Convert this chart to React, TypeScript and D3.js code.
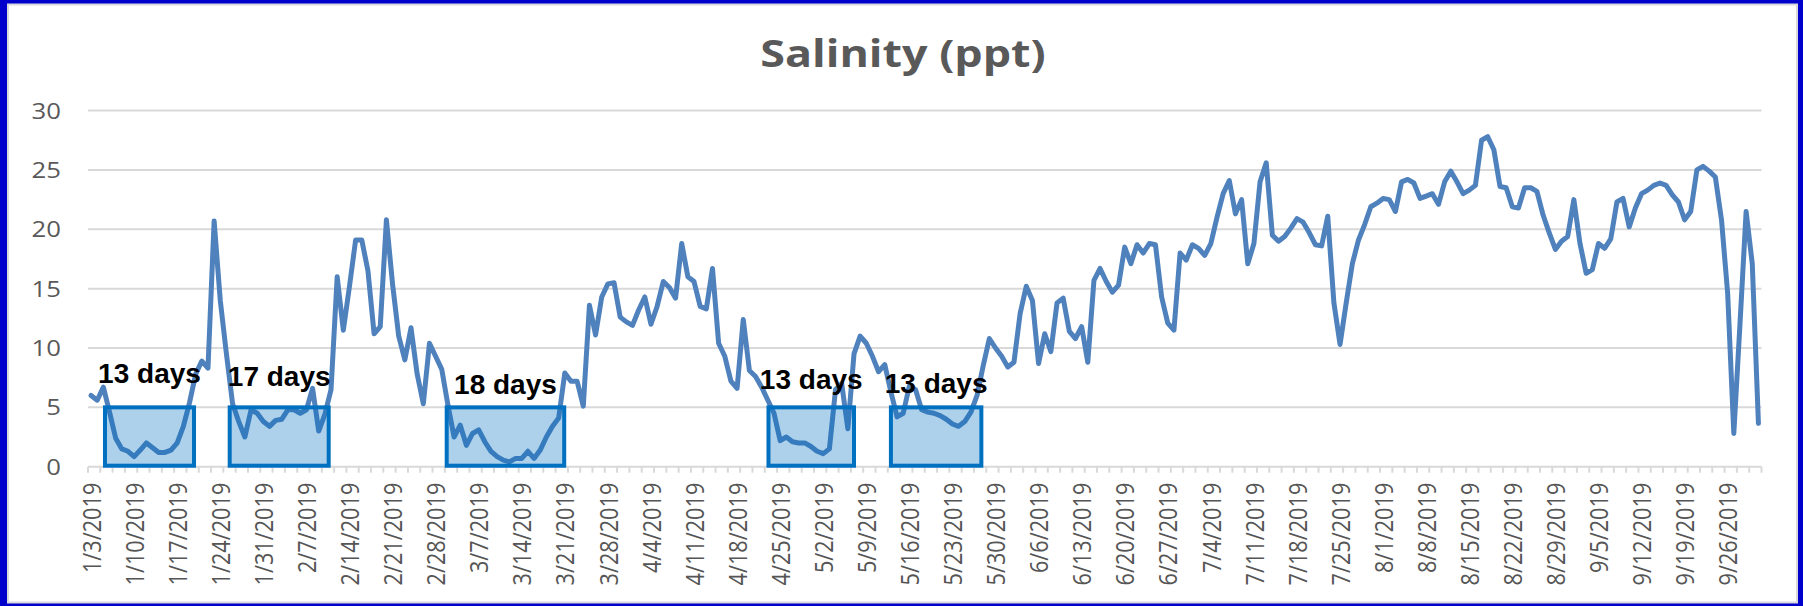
import React from "react";
import * as d3 from "d3";

// Daily salinity (ppt), one value per day starting 1/3/2019
const salinity: number[] = [
  6.0, 5.6, 6.7, 4.6, 2.4, 1.5, 1.3, 0.85, 1.4, 2.0,
  1.6, 1.2, 1.2, 1.4, 2.0, 3.4, 5.4, 7.8, 8.9, 8.3,
  20.7, 14.0, 9.5, 5.3, 3.8, 2.5, 4.8, 4.5, 3.8, 3.4,
  3.9, 4.0, 4.8, 4.8, 4.5, 4.8, 6.6, 3.0, 4.4, 6.5,
  16.0, 11.5, 15.2, 19.1, 19.1, 16.5, 11.2, 11.8, 20.8, 15.4,
  11.0, 9.0, 11.7, 7.8, 5.3, 10.4, 9.3, 8.2, 5.2, 2.5,
  3.5, 1.8, 2.8, 3.1, 2.1, 1.3, 0.85, 0.55, 0.4, 0.7,
  0.7, 1.3, 0.7, 1.4, 2.5, 3.4, 4.1, 7.9, 7.2, 7.2,
  5.1, 13.6, 11.1, 14.3, 15.4, 15.5, 12.6, 12.2, 11.9, 13.2,
  14.3, 12.0, 13.5, 15.6, 15.1, 14.2, 18.8, 16.0, 15.6, 13.5,
  13.3, 16.7, 10.4, 9.3, 7.2, 6.6, 12.4, 8.1, 7.6, 6.7,
  5.6, 4.5, 2.2, 2.5, 2.1, 2.0, 2.0, 1.7, 1.3, 1.1,
  1.5, 6.5, 7.0, 3.2, 9.5, 11.0, 10.4, 9.3, 8.0, 8.6,
  6.3, 4.2, 4.5, 6.8, 6.5, 4.8, 4.6, 4.5, 4.3, 4.0,
  3.6, 3.4, 3.8, 4.6, 6.0, 8.5, 10.8, 10.0, 9.3, 8.4,
  8.8, 12.9, 15.2, 14.0, 8.7, 11.2, 9.7, 13.8, 14.2, 11.4,
  10.8, 11.8, 8.8, 15.7, 16.7, 15.6, 14.7, 15.3, 18.5, 17.1,
  18.7, 18.0, 18.8, 18.7, 14.3, 12.1, 11.5, 18.0, 17.4, 18.7,
  18.4, 17.8, 18.8, 21.0, 23.0, 24.1, 21.3, 22.5, 17.1, 18.8,
  24.0, 25.6, 19.5, 19.0, 19.4, 20.1, 20.9, 20.6, 19.7, 18.7,
  18.6, 21.1, 13.8, 10.3, 13.8, 17.1, 19.1, 20.4, 21.9, 22.2,
  22.6, 22.5, 21.5, 24.0, 24.2, 23.9, 22.6, 22.8, 23.0, 22.1,
  24.0, 24.9, 24.0, 23.0, 23.3, 23.7, 27.5, 27.8, 26.7, 23.6,
  23.5, 21.9, 21.8, 23.5, 23.5, 23.2, 21.2, 19.7, 18.3, 19.0,
  19.4, 22.5, 18.8, 16.3, 16.6, 18.8, 18.4, 19.2, 22.3, 22.6,
  20.2, 21.8, 23.0, 23.3, 23.7, 23.9, 23.7, 22.9, 22.3, 20.8,
  21.5, 25.0, 25.3, 24.9, 24.4, 20.8, 14.6, 2.8, 12.0, 21.5,
  17.1, 3.65,
];

const dateLabels: string[] = [
  "1/3/2019", "1/10/2019", "1/17/2019", "1/24/2019", "1/31/2019", "2/7/2019",
  "2/14/2019", "2/21/2019", "2/28/2019", "3/7/2019", "3/14/2019", "3/21/2019",
  "3/28/2019", "4/4/2019", "4/11/2019", "4/18/2019", "4/25/2019", "5/2/2019",
  "5/9/2019", "5/16/2019", "5/23/2019", "5/30/2019", "6/6/2019", "6/13/2019",
  "6/20/2019", "6/27/2019", "7/4/2019", "7/11/2019", "7/18/2019", "7/25/2019",
  "8/1/2019", "8/8/2019", "8/15/2019", "8/22/2019", "8/29/2019", "9/5/2019",
  "9/12/2019", "9/19/2019", "9/26/2019",
];
const labelEvery = 7;

const yTicks: number[] = [0, 5, 10, 15, 20, 25, 30];

// Low-salinity periods (day offsets from 1/3/2019) and their annotation levels (ppt)
const lowStart: number[] = [2.26, 22.53, 57.8, 110.1, 130.0];
const lowEnd: number[] = [16.73, 38.62, 76.9, 124.0, 144.7];
const lowLabels: string[] = ["13 days", "17 days", "18 days", "13 days", "13 days"];
const lowLabelLevel: number[] = [7.08, 6.82, 6.12, 6.55, 6.25];
const lowThreshold = 5;

const W = 1803;
const H = 606;
const SX = 1.17; // horizontal stretch of the original picture

export default function App() {
  const x = d3
    .scaleLinear()
    .domain([-0.5, salinity.length - 0.5])
    .range([88, 1761.5]);
  const y = d3.scaleLinear().domain([0, 30]).range([466.7, 110.6]);

  const line = d3
    .line<number>()
    .x((_, i) => x(i))
    .y((d) => y(d));

  const tickDays = d3.range(0, salinity.length + 1, 2);

  return (
    <svg
      width={W}
      height={H}
      style={{ position: "absolute", left: 0, top: 0, display: "block" }}
    >
      <rect x={0} y={0} width={W} height={H} fill="#0000CD" />
      <rect
        x={8}
        y={4.5}
        width={1789}
        height={598}
        fill="#FFFFFF"
        stroke="#D9D9D9"
        strokeWidth={2}
      />
      {/* title */}
      <text
        transform={`translate(903,66.7) scale(1.18,1)`}
        textAnchor="middle"
        fontFamily="'Open Sans', sans-serif"
        fontWeight={700}
        fontSize={38}
        fill="#595959"
      >
        Salinity (ppt)
      </text>
      {/* gridlines */}
      {yTicks.map((t) => (
        <line
          key={"g" + t}
          x1={88}
          x2={1761.5}
          y1={y(t)}
          y2={y(t)}
          stroke="#D9D9D9"
          strokeWidth={2}
        />
      ))}
      {/* y labels */}
      {yTicks.map((t) => (
        <text
          key={"yl" + t}
          transform={`translate(61,${y(t) + 8}) scale(${SX},1)`}
          textAnchor="end"
          fontFamily="'Open Sans', sans-serif"
          fontSize={22}
          fill="#595959"
        >
          {t}
        </text>
      ))}
      {/* x ticks */}
      {tickDays.map((d) => (
        <line
          key={"t" + d}
          x1={x(d - 0.5)}
          x2={x(d - 0.5)}
          y1={y(0)}
          y2={y(0) + 6}
          stroke="#D9D9D9"
          strokeWidth={2}
        />
      ))}
      {/* x labels */}
      {dateLabels.map((lab, k) => (
        <text
          key={"xl" + k}
          transform={`translate(${x(k * labelEvery)},482.7) scale(${SX},1) rotate(-90)`}
          textAnchor="end"
          dominantBaseline="central"
          fontFamily="'Open Sans', sans-serif"
          fontSize={21.7}
          fill="#555555"
        >
          {lab}
        </text>
      ))}
      {/* series */}
      <path
        d={line(salinity) || ""}
        fill="none"
        stroke="#4F81BD"
        strokeWidth={5}
        strokeLinejoin="round"
        strokeLinecap="round"
      />
      {/* low periods */}
      {lowStart.map((s, k) => (
        <g key={"b" + k}>
          <rect
            x={x(s)}
            y={y(lowThreshold)}
            width={x(lowEnd[k]) - x(s)}
            height={y(0) - y(lowThreshold) - 1}
            fill="#0070C0"
            fillOpacity={0.32}
            stroke="#0070C0"
            strokeWidth={4}
          />
          <text
            x={(x(s) + x(lowEnd[k])) / 2}
            y={y(lowLabelLevel[k])}
            textAnchor="middle"
            fontFamily="'Liberation Sans', Arial, sans-serif"
            fontWeight={700}
            fontSize={28}
            fill="#000000"
          >
            {lowLabels[k]}
          </text>
        </g>
      ))}
    </svg>
  );
}
